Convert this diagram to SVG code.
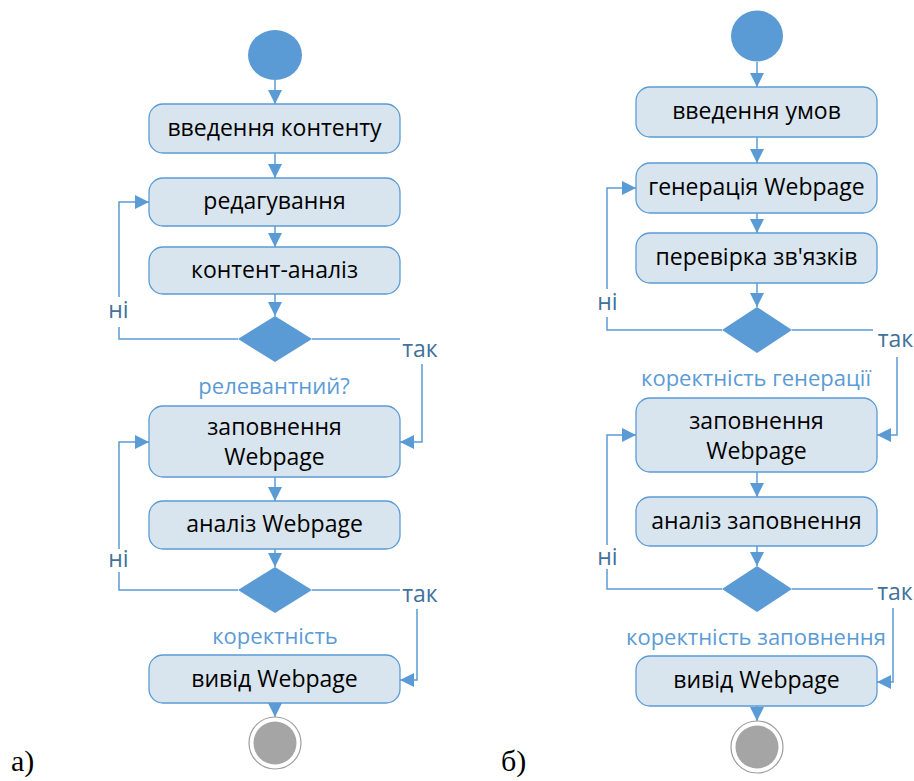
<svg xmlns="http://www.w3.org/2000/svg" width="914" height="781" viewBox="0 0 914 781">
  <style>
    .act { fill: #D9E5EE; stroke: #5B9BD5; stroke-width: 1.3; }
    .act-text { font-family: "Open Sans", "Noto Sans", sans-serif; font-size: 23px; fill: #000; text-anchor: middle; }
    .start { fill: #5B9BD5; }
    .end-ring { fill: #fff; stroke: #9E9E9E; stroke-width: 1.2; }
    .end-dot { fill: #A5A5A5; }
    .decision { fill: #5B9BD5; }
    .cond { font-family: "Open Sans", "Noto Sans", sans-serif; font-size: 22px; fill: #5B9BD5; text-anchor: middle; }
    .edge { fill: none; stroke: #5B9BD5; stroke-width: 1.5; }
    .guard { font-family: "Open Sans", "Noto Sans", sans-serif; font-size: 23px; fill: #41719C; text-anchor: middle; }
    .mask { fill: #fff; }
    .caption { font-family: "Liberation Serif", "Times New Roman", serif; font-size: 30px; fill: #000; }
  </style>
  <defs>
    <marker id="arrow" markerUnits="userSpaceOnUse" markerWidth="14" markerHeight="14" viewBox="0 0 12 12" refX="12" refY="6" orient="auto">
      <path d="M0,0 L12,6 L0,12 Z" fill="#5B9BD5"/>
    </marker>
  </defs>
  <rect width="914" height="781" fill="#fff"/>

  <!-- connectors -->
  <g id="connectors">
    <!-- diagram a -->
    <path class="edge" d="M275 80 V104" marker-end="url(#arrow)"/>
    <path class="edge" d="M275 153 V178" marker-end="url(#arrow)"/>
    <path class="edge" d="M275 226 V247" marker-end="url(#arrow)"/>
    <path class="edge" d="M275 294 V316" marker-end="url(#arrow)"/>
    <path class="edge" d="M238 339 H119 V202 H149" marker-end="url(#arrow)"/>
    <path class="edge" d="M312 339 H422 V442 H400" marker-end="url(#arrow)"/>
    <path class="edge" d="M275 477 V501" marker-end="url(#arrow)"/>
    <path class="edge" d="M275 549 V567" marker-end="url(#arrow)"/>
    <path class="edge" d="M238 590 H119 V442 H149" marker-end="url(#arrow)"/>
    <path class="edge" d="M312 590 H417 V680 H400" marker-end="url(#arrow)"/>
    <path class="edge" d="M275 703 V717" marker-end="url(#arrow)"/>

    <!-- diagram b -->
    <path class="edge" d="M757 62 V87" marker-end="url(#arrow)"/>
    <path class="edge" d="M757 137 V163" marker-end="url(#arrow)"/>
    <path class="edge" d="M757 213 V233" marker-end="url(#arrow)"/>
    <path class="edge" d="M757 283 V307" marker-end="url(#arrow)"/>
    <path class="edge" d="M722 330 H607 V188 H636" marker-end="url(#arrow)"/>
    <path class="edge" d="M792 330 H897 V435 H877" marker-end="url(#arrow)"/>
    <path class="edge" d="M757 472 V497" marker-end="url(#arrow)"/>
    <path class="edge" d="M757 546 V566" marker-end="url(#arrow)"/>
    <path class="edge" d="M722 589 H607 V435 H636" marker-end="url(#arrow)"/>
    <path class="edge" d="M792 589 H893 V682 H877" marker-end="url(#arrow)"/>
    <path class="edge" d="M757 706 V721" marker-end="url(#arrow)"/>

    <!-- guard labels on the connectors -->
    <rect class="mask" x="106" y="297" width="26" height="30"/>
    <text class="guard" x="118.5" y="318">ні</text>
    <rect class="mask" x="400" y="336" width="44" height="28"/>
    <text class="guard" x="420" y="357">так</text>
    <rect class="mask" x="106" y="549" width="26" height="23"/>
    <text class="guard" x="118.5" y="567">ні</text>
    <rect class="mask" x="400" y="585" width="44" height="24"/>
    <text class="guard" x="420" y="602">так</text>

    <rect class="mask" x="594" y="289" width="26" height="28"/>
    <text class="guard" x="607.5" y="310">ні</text>
    <rect class="mask" x="873" y="325" width="41" height="32"/>
    <text class="guard" x="895.5" y="347">так</text>
    <rect class="mask" x="594" y="545" width="26" height="24"/>
    <text class="guard" x="607.5" y="565">ні</text>
    <rect class="mask" x="873" y="584" width="41" height="24"/>
    <text class="guard" x="895" y="600">так</text>
  </g>

  <!-- diagram a -->
  <g id="a-start"><ellipse class="start" cx="275" cy="55" rx="27" ry="25"/></g>
  <g id="a-input">
    <rect class="act" x="149" y="104" width="251" height="49" rx="14"/>
    <text class="act-text" x="274.5" y="136">введення контенту</text>
  </g>
  <g id="a-edit">
    <rect class="act" x="149" y="178" width="251" height="48" rx="14"/>
    <text class="act-text" x="274.5" y="209">редагування</text>
  </g>
  <g id="a-analysis">
    <rect class="act" x="149" y="247" width="251" height="47" rx="14"/>
    <text class="act-text" x="274.5" y="278">контент-аналіз</text>
  </g>
  <g id="a-relevant">
    <polygon class="decision" points="275,316 312,339 275,362 238,339"/>
    <text class="cond" x="274" y="394">релевантний?</text>
  </g>
  <g id="a-fill">
    <rect class="act" x="149" y="406" width="251" height="71" rx="14"/>
    <text class="act-text" x="274.5" y="435">заповнення</text>
    <text class="act-text" x="274.5" y="465">Webpage</text>
  </g>
  <g id="a-check">
    <rect class="act" x="149" y="501" width="251" height="48" rx="14"/>
    <text class="act-text" x="274.5" y="532">аналіз Webpage</text>
  </g>
  <g id="a-correct">
    <polygon class="decision" points="275,567 312,590 275,613 238,590"/>
    <text class="cond" x="275" y="644">коректність</text>
  </g>
  <g id="a-output">
    <rect class="act" x="149" y="655" width="251" height="48" rx="14"/>
    <text class="act-text" x="274.5" y="687">вивід Webpage</text>
  </g>
  <g id="a-end">
    <circle class="end-ring" cx="275" cy="743" r="26"/>
    <circle class="end-dot" cx="275" cy="743" r="21.5"/>
  </g>

  <!-- diagram b -->
  <g id="b-start"><ellipse class="start" cx="757" cy="36" rx="26" ry="25.5"/></g>
  <g id="b-input">
    <rect class="act" x="636" y="87" width="241" height="50" rx="14"/>
    <text class="act-text" x="756.5" y="119">введення умов</text>
  </g>
  <g id="b-generate">
    <rect class="act" x="636" y="163" width="241" height="50" rx="14"/>
    <text class="act-text" x="756.5" y="195">генерація Webpage</text>
  </g>
  <g id="b-links">
    <rect class="act" x="636" y="233" width="241" height="50" rx="14"/>
    <text class="act-text" x="756.5" y="265">перевірка зв'язків</text>
  </g>
  <g id="b-gen-ok">
    <polygon class="decision" points="757,307 792,330 757,353 722,330"/>
    <text class="cond" x="756" y="386">коректність генерації</text>
  </g>
  <g id="b-fill">
    <rect class="act" x="636" y="398" width="241" height="74" rx="14"/>
    <text class="act-text" x="756.5" y="429">заповнення</text>
    <text class="act-text" x="756.5" y="459">Webpage</text>
  </g>
  <g id="b-check">
    <rect class="act" x="636" y="497" width="241" height="49" rx="14"/>
    <text class="act-text" x="756.5" y="529">аналіз заповнення</text>
  </g>
  <g id="b-fill-ok">
    <polygon class="decision" points="757,566 792,589 757,612 722,589"/>
    <text class="cond" x="756" y="645">коректність заповнення</text>
  </g>
  <g id="b-output">
    <rect class="act" x="636" y="656" width="241" height="50" rx="14"/>
    <text class="act-text" x="756.5" y="688">вивід Webpage</text>
  </g>
  <g id="b-end">
    <circle class="end-ring" cx="757" cy="747" r="26"/>
    <circle class="end-dot" cx="757" cy="747" r="21.5"/>
  </g>

  <!-- captions -->
  <text class="caption" x="11" y="771">a)</text>
  <text class="caption" x="501" y="771">б)</text>
</svg>
